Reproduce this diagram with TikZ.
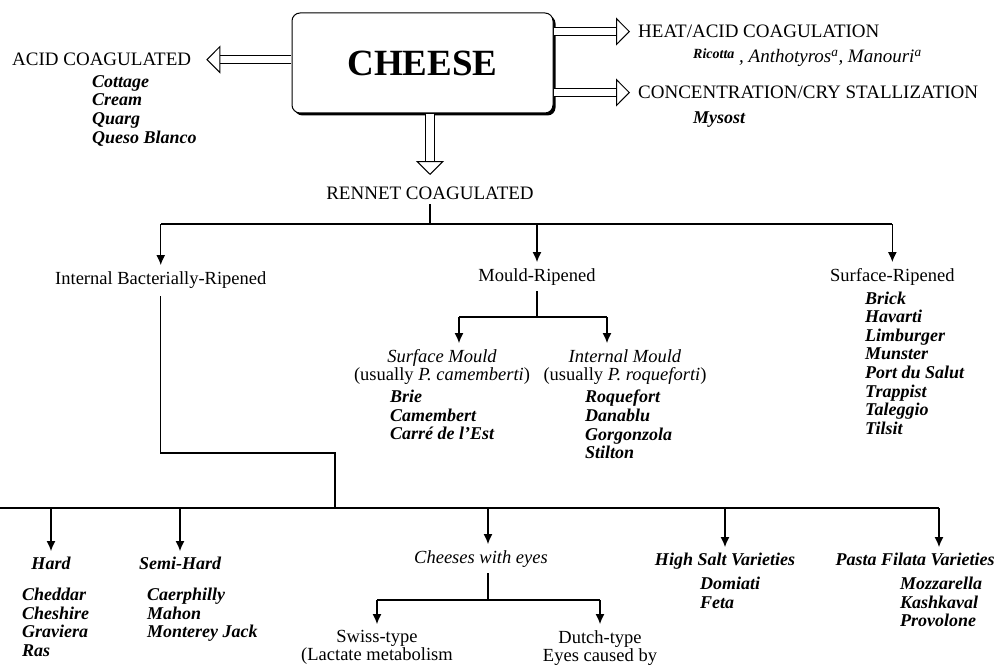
\documentclass[tikz,border=0pt]{standalone}
\usepackage{fontspec}
\setmainfont{Liberation Serif}
\usetikzlibrary{arrows.meta, positioning, shadows}

\begin{document}
\begin{tikzpicture}[
    x=1pt, y=-1pt,
    title/.style={
        draw,
        line width=1pt,
        rounded corners=8pt,
        fill=white,
        minimum width=261pt,
        minimum height=100pt,
        drop shadow={shadow xshift=2.5pt, shadow yshift=-2.5pt, fill=black, opacity=1},
        font=\fontsize{37}{40}\selectfont\bfseries
    },
    group/.style={
        inner sep=0pt,
        font=\fontsize{19}{20}\selectfont
    },
    sort/.style={
        inner sep=0pt,
        align=center,
        font=\fontsize{18.5}{18}\selectfont
    },
    kind/.style={
        inner sep=0pt,
        font=\fontsize{18}{18.5}\selectfont\bfseries\itshape
    },
    examples/.style={
        inner sep=0pt,
        align=left,
        anchor=north west,
        font=\fontsize{18}{18.6}\selectfont\bfseries\itshape
    },
    bar/.style={line width=1.1pt},
    arrow/.style={-{Latex[length=10pt, width=9pt]}, line width=1.1pt, shorten >=6pt},
    hollow/.style={
        double,
        double distance=7.5pt,
        line width=1pt,
        shorten <=0.5pt,
        -{Triangle[open, length=14pt, width=28pt, line width=1pt]}
    }
]
\useasboundingbox (0,0) rectangle (1003,666);

\node[title] (cheese) at (422.5,63) {CHEESE};

\node[group, anchor=north west] (acid_head) at (12,53) {ACID COAGULATED};
\node[examples, below=9pt of acid_head.south west, anchor=north west, xshift=80pt] (acid_items) {
Cottage\\Cream\\Quarg\\Queso Blanco
};

\node[group, anchor=north west] (heat_head) at (638,25) {HEAT/ACID COAGULATION};
\node[inner sep=0pt, anchor=base west, font=\fontsize{19}{20}\selectfont\itshape] (heat_items) at (693,63) {
\raisebox{4pt}{\fontsize{14}{15}\selectfont\bfseries Ricotta}\ , Anthotyros\textsuperscript{a}, Manouri\textsuperscript{a}
};

\node[group, anchor=north west] (conc_head) at (638,86) {CONCENTRATION/CRY STALLIZATION};
\node[examples, below=12pt of conc_head.south west, anchor=north west, xshift=55pt] (conc_items) {
Mysost
};

\node[group, anchor=north] (rennet) at (430,187) {RENNET COAGULATED};

\node[sort, anchor=north west] (ibr) at (55,271) {Internal Bacterially-Ripened};
\node[sort, anchor=north] (mould) at (537,268) {Mould-Ripened};
\node[sort, anchor=north west] (surf) at (830,268) {Surface-Ripened};
\node[examples, below=6pt of surf.south west, anchor=north west, xshift=35pt] (surf_items) {
Brick\\Havarti\\Limburger\\Munster\\Port du Salut\\Trappist\\Taleggio\\Tilsit
};

\node[sort, anchor=north] (smould) at (442,349) {
\textit{Surface Mould}\\(usually \textit{P. camemberti})
};
\node[sort, anchor=north] (imould) at (625,349) {
\textit{Internal Mould}\\(usually \textit{P. roqueforti})
};
\node[examples] (smould_items) at (390,390) {
Brie\\Camembert\\Carré de l'Est
};
\node[examples] (imould_items) at (585,390) {
Roquefort\\Danablu\\Gorgonzola\\Stilton
};

\node[kind, anchor=north] (hard) at (51,557) {Hard};
\node[kind, anchor=north] (semi) at (180,557) {Semi-Hard};
\node[sort, anchor=north, font=\fontsize{18.5}{18}\selectfont\itshape] (eyes) at (481,550) {Cheeses with eyes};
\node[kind, anchor=north] (salt) at (725,553) {High Salt Varieties};
\node[kind, anchor=north] (pasta) at (915,553) {Pasta Filata Varieties};

\node[examples] (hard_items) at (22,588) {
Cheddar\\Cheshire\\Graviera\\Ras
};
\node[examples] (semi_items) at (147,588) {
Caerphilly\\Mahon\\Monterey Jack
};
\node[examples] (salt_items) at (700,577) {
Domiati\\Feta
};
\node[examples] (pasta_items) at (900,577) {
Mozzarella\\Kashkaval\\Provolone
};

\node[sort, anchor=north] (swiss) at (377,630) {
Swiss-type\\(Lactate metabolism
};
\node[sort, anchor=north] (dutch) at (600,630) {
Dutch-type\\Eyes caused by
};

% hollow arrows out of the box
\draw[hollow, shorten >=15pt] (cheese.west |- acid_head.east) -- (acid_head.east);
\draw[hollow, shorten >=8pt] (cheese.east |- heat_head.west) -- (heat_head.west);
\draw[hollow, shorten >=8pt] (cheese.east |- conc_head.west) -- (conc_head.west);
\draw[hollow, shorten >=12pt] (rennet.north |- cheese.south) -- (rennet.north);

% rennet coagulated branches
\coordinate (top_bar) at (0,224);
\draw[bar, shorten <=4pt] (rennet.south) -- (rennet.south |- top_bar);
\draw[bar] (ibr.north |- top_bar) -- (surf.north |- top_bar);
\draw[arrow] (ibr.north |- top_bar) -- (ibr.north);
\draw[arrow] (mould.north |- top_bar) -- (mould.north);
\draw[arrow] (surf.north |- top_bar) -- (surf.north);

% mould branches
\coordinate (smould_in) at (459,317);
\coordinate (imould_in) at (607,317);
\draw[bar, shorten <=6pt] (mould.south) -- (mould.south |- smould_in);
\draw[bar] (smould_in) -- (imould_in);
\draw[arrow] (smould_in) -- (smould_in |- smould.north);
\draw[arrow] (imould_in) -- (imould_in |- imould.north);

% internal bacterially ripened branches
\coordinate (ibr_knee) at (335,453);
\coordinate (low_bar) at (0,508);
\coordinate (eyes_in) at (488,508);
\coordinate (pasta_in) at (939,508);
\draw[bar, shorten <=8pt] (ibr.south) |- (ibr_knee) -- (ibr_knee |- low_bar);
\draw[bar] (low_bar) -- (pasta_in);
\draw[arrow] (hard.north |- low_bar) -- (hard.north);
\draw[arrow] (semi.north |- low_bar) -- (semi.north);
\draw[arrow] (eyes_in) -- (eyes_in |- eyes.north);
\draw[arrow] (salt.north |- low_bar) -- (salt.north);
\draw[arrow] (pasta_in) -- (pasta_in |- pasta.north);

% cheeses with eyes
\coordinate (eyes_bar) at (0,600);
\draw[bar, shorten <=6pt] (eyes_in |- eyes.south) -- (eyes_in |- eyes_bar);
\draw[bar] (swiss.north |- eyes_bar) -- (dutch.north |- eyes_bar);
\draw[arrow] (swiss.north |- eyes_bar) -- (swiss.north);
\draw[arrow] (dutch.north |- eyes_bar) -- (dutch.north);

\end{tikzpicture}
\end{document}
